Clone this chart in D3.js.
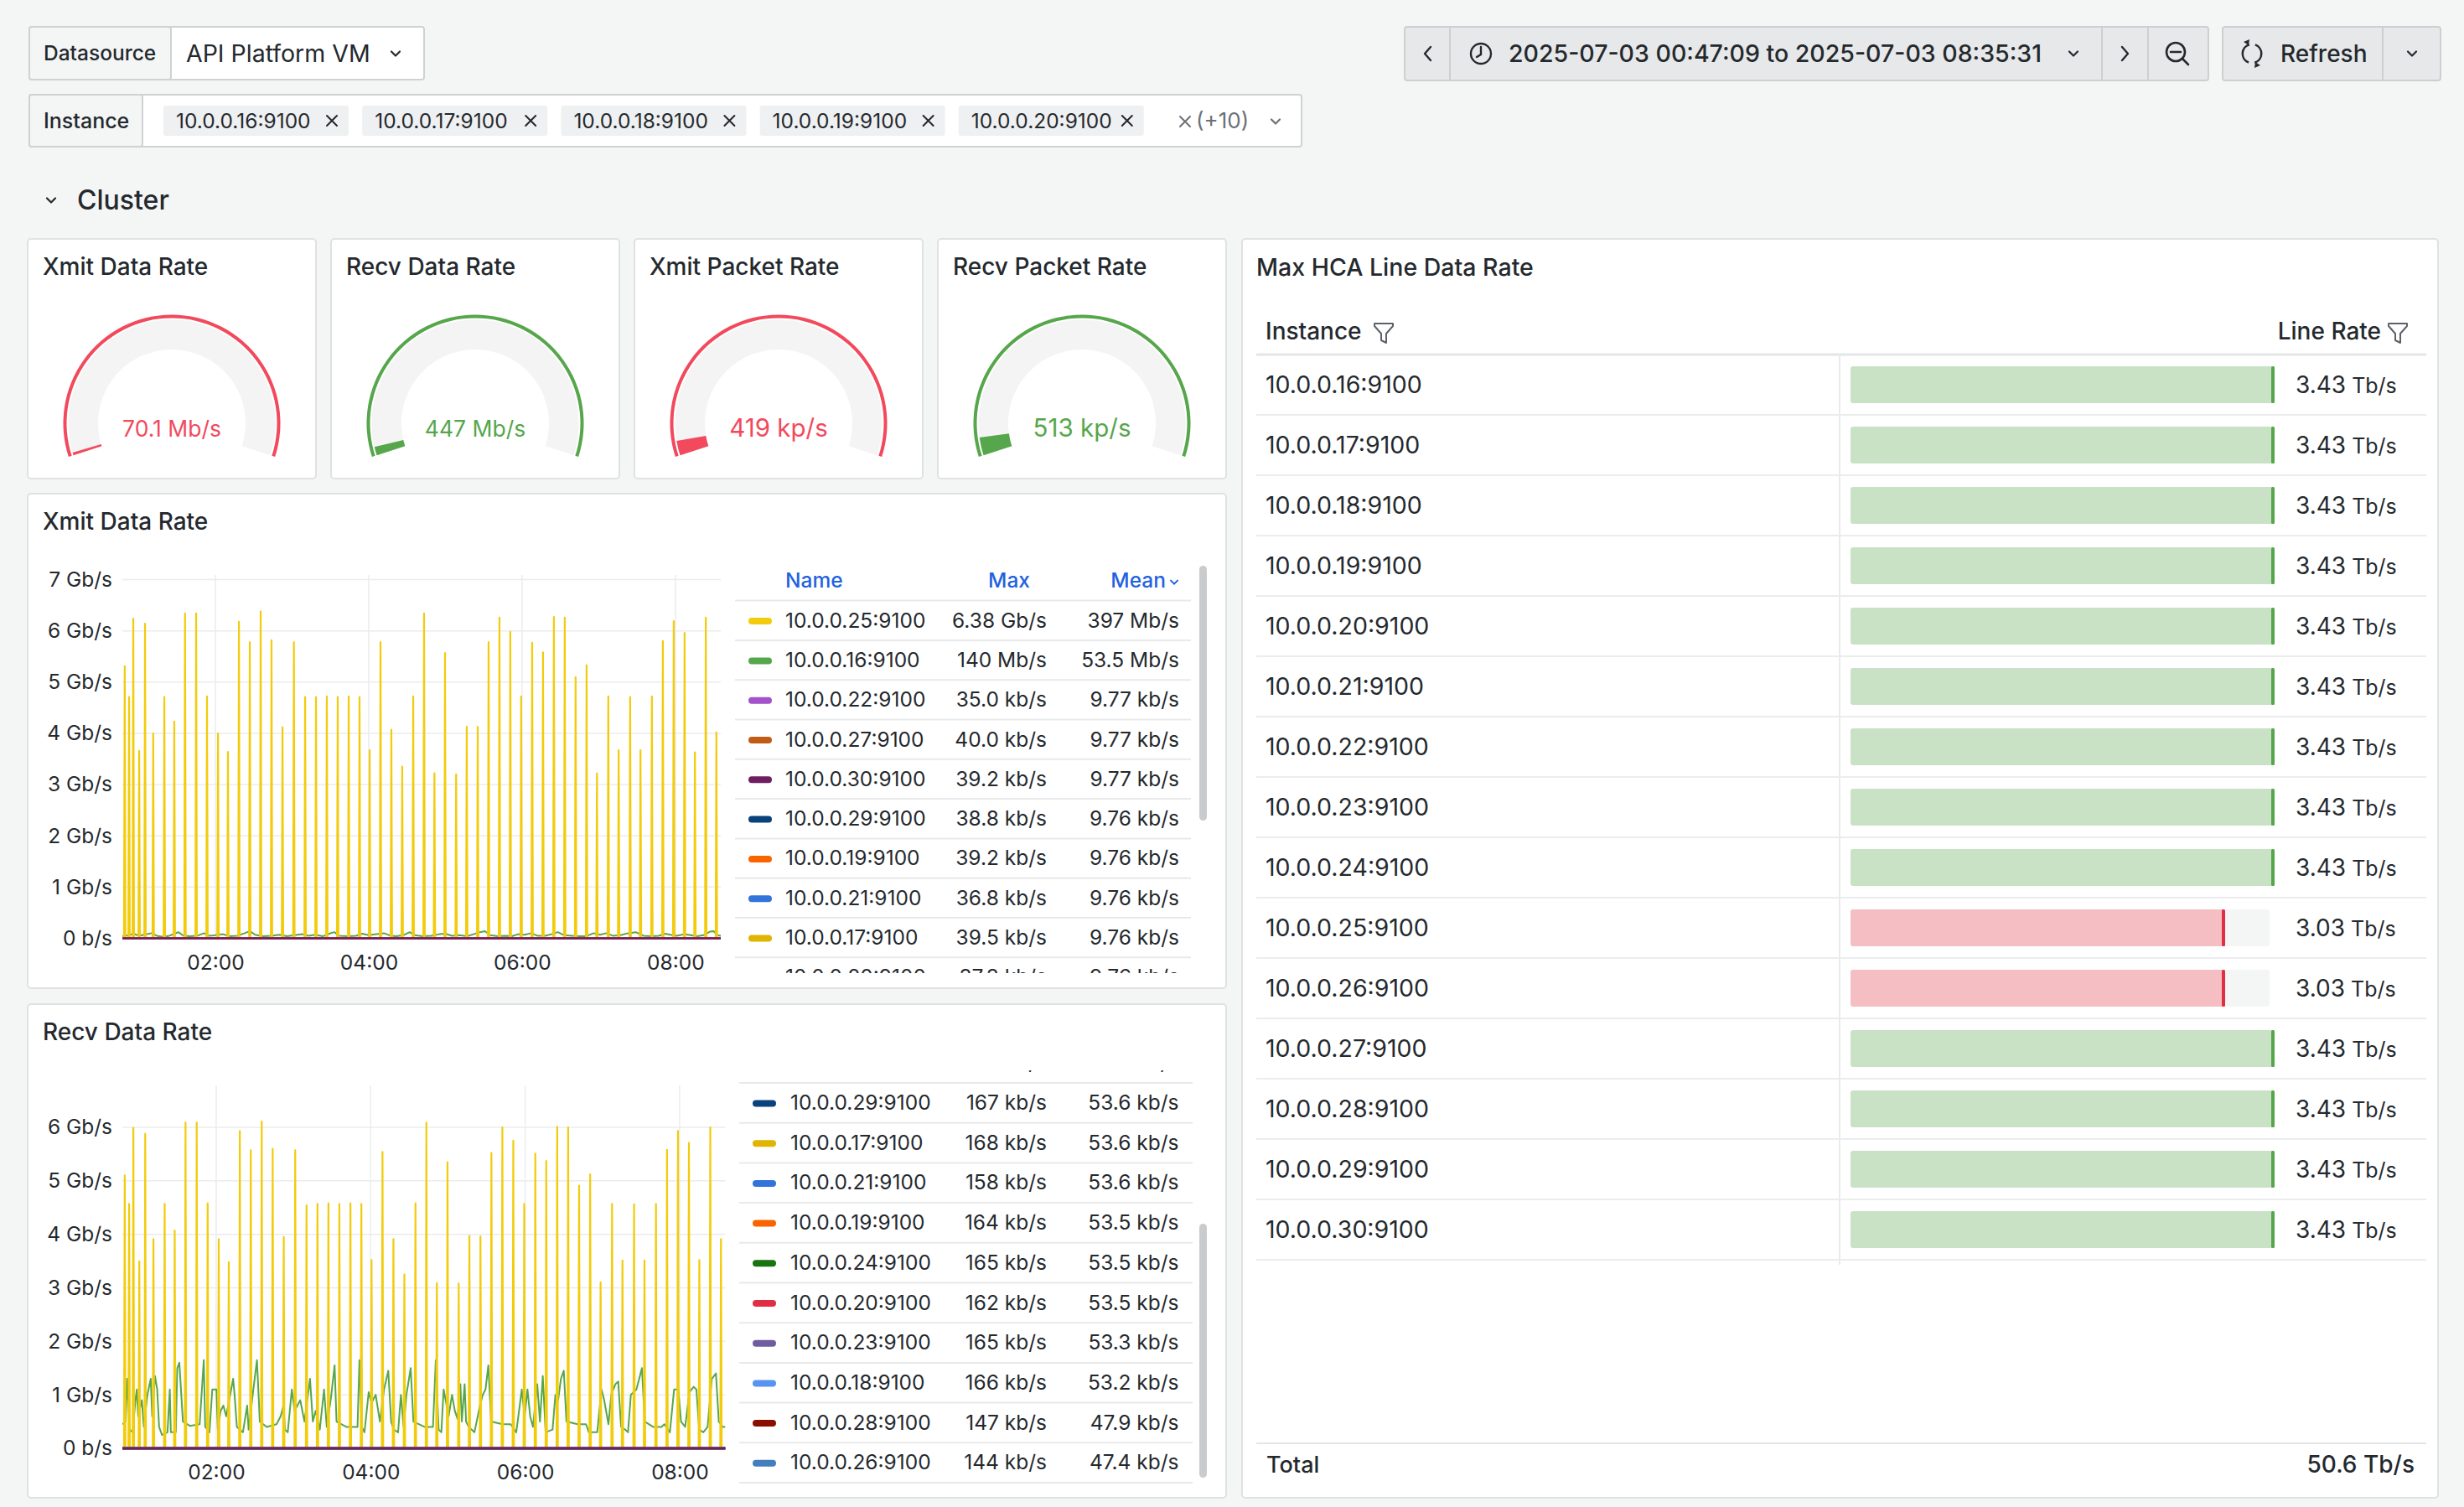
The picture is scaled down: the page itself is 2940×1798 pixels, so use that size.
<!DOCTYPE html>
<html>
<head>
<meta charset="utf-8">
<title>Cluster</title>
<script src="https://cdn.jsdelivr.net/npm/d3@7"></script>
<style>
  html, body { margin: 0; padding: 0; background: #f4f5f5; }
  svg { display: block; font-family: Inter, "Noto Sans", sans-serif; }
</style>
</head>
<body>
<svg id="dashboard" width="2940" height="1798"></svg>
<script>
// ---------- data ----------
const instances = ['10.0.0.16:9100', '10.0.0.17:9100', '10.0.0.18:9100', '10.0.0.19:9100', '10.0.0.20:9100',
    '10.0.0.21:9100', '10.0.0.22:9100', '10.0.0.23:9100', '10.0.0.24:9100', '10.0.0.25:9100',
    '10.0.0.26:9100', '10.0.0.27:9100', '10.0.0.28:9100', '10.0.0.29:9100', '10.0.0.30:9100'];
const lineRates = [3.43, 3.43, 3.43, 3.43, 3.43, 3.43, 3.43, 3.43, 3.43, 3.03, 3.03, 3.43, 3.43, 3.43, 3.43]; // Tb/s
const lineRateTotal = '50.6';
const lineRateThreshold = 3.2;

const instanceColors = {
    '10.0.0.16:9100': '#56A64B', '10.0.0.17:9100': '#E0B400', '10.0.0.18:9100': '#5794F2',
    '10.0.0.19:9100': '#FA6400', '10.0.0.20:9100': '#E02F44', '10.0.0.21:9100': '#3274D9',
    '10.0.0.22:9100': '#A352CC', '10.0.0.23:9100': '#705DA0', '10.0.0.24:9100': '#19730E',
    '10.0.0.25:9100': '#F2CC0C', '10.0.0.26:9100': '#447EBC', '10.0.0.27:9100': '#C15C17',
    '10.0.0.28:9100': '#890F02', '10.0.0.29:9100': '#0A437C', '10.0.0.30:9100': '#6D1F62'
};

const gaugeTitles = ['Xmit Data Rate', 'Recv Data Rate', 'Xmit Packet Rate', 'Recv Packet Rate'];
const gaugeValues = [70.1, 447, 419, 513];
const gaugeUnits = ['Mb/s', 'Mb/s', 'kp/s', 'kp/s'];
const gaugeMax = [10000, 20000, 11000, 11000];
const gaugeColors = ['#F2495C', '#56A64B', '#F2495C', '#56A64B'];

const rangeStart = new Date(2025, 6, 3, 0, 47, 9);
const rangeEnd = new Date(2025, 6, 3, 8, 35, 31);
const timeTicks = ['02:00', '04:00', '06:00', '08:00'];
const xmitYTicks = [0, 1, 2, 3, 4, 5, 6, 7];   // Gb/s
const recvYTicks = [0, 1, 2, 3, 4, 5, 6];      // Gb/s

// 10.0.0.25 bursts: minutes after midnight, and peak in Gb/s
const spikeMinutes = [49.0, 52.4, 55.7, 60.3, 64.9, 71.3, 80.0, 87.8, 96.2, 104.9, 113.4, 122.0, 129.8, 138.4,
    146.9, 155.4, 163.9, 172.5, 181.4, 190.2, 198.7, 207.2, 215.7, 224.3, 232.8, 240.7, 249.2, 257.7, 266.2,
    274.8, 283.3, 291.4, 299.7, 308.4, 316.7, 325.3, 333.8, 342.3, 350.8, 359.3, 367.9, 376.4, 384.9, 393.4,
    401.9, 410.5, 418.6, 427.5, 435.6, 444.6, 452.7, 461.6, 470.2, 478.7, 487.2, 495.3, 503.8, 512.1];
const xmitSpikes = [5.31, 4.71, 6.24, 3.66, 6.14, 4.00, 4.71, 4.23, 6.34, 6.34, 4.72, 4.00, 3.64, 6.18, 5.78,
    6.38, 5.82, 4.12, 5.78, 4.71, 4.71, 4.72, 4.71, 4.72, 4.71, 3.67, 5.78, 4.07, 3.35, 4.72, 6.34, 3.22, 5.57,
    3.20, 4.13, 4.13, 5.78, 6.26, 5.98, 4.72, 5.77, 5.58, 6.27, 6.26, 5.10, 5.33, 3.22, 4.72, 3.67, 4.71, 3.67,
    4.72, 5.80, 6.19, 5.96, 3.63, 6.26, 4.02];
const recvSpikes = [5.10, 4.57, 5.99, 3.49, 5.88, 3.91, 4.57, 4.07, 6.09, 6.09, 4.58, 3.91, 3.48, 5.93, 5.57,
    6.11, 5.60, 3.95, 5.57, 4.54, 4.57, 4.58, 4.57, 4.58, 4.57, 3.52, 5.54, 3.91, 3.25, 4.58, 6.09, 3.09, 5.35,
    3.08, 3.97, 3.96, 5.52, 6.00, 5.75, 4.57, 5.51, 5.37, 6.01, 6.00, 4.91, 5.12, 3.10, 4.57, 3.51, 4.56, 3.51,
    4.57, 5.58, 5.93, 5.71, 3.52, 6.00, 3.91];

// 10.0.0.16: [minutes after midnight, Gb/s]
const xmitGreen = [[47.2, 0.04], [52, 0.06], [56, 0.09], [60, 0.05], [64, 0.07], [70, 0.1], [74, 0.05], [79, 0.03],
    [84, 0.05], [88, 0.09], [91, 0.12], [95, 0.05], [100, 0.04], [106, 0.05], [111, 0.1], [115, 0.05], [120, 0.06],
    [126, 0.08], [131, 0.04], [137, 0.05], [143, 0.1], [147, 0.14], [151, 0.07], [157, 0.04], [164, 0.05],
    [170, 0.07], [176, 0.04], [182, 0.06], [188, 0.08], [193, 0.05], [198, 0.07], [204, 0.04], [209, 0.09],
    [213, 0.12], [217, 0.05], [224, 0.04], [230, 0.05], [235, 0.09], [240, 0.06], [246, 0.08], [252, 0.1],
    [257, 0.05], [262, 0.04], [268, 0.07], [272, 0.12], [276, 0.06], [282, 0.04], [289, 0.05], [295, 0.08],
    [300, 0.09], [305, 0.05], [311, 0.06], [317, 0.04], [322, 0.08], [327, 0.12], [331, 0.14], [335, 0.06],
    [341, 0.04], [347, 0.05], [352, 0.04], [357, 0.08], [362, 0.07], [367, 0.1], [372, 0.05], [378, 0.05],
    [383, 0.08], [388, 0.12], [393, 0.06], [399, 0.05], [405, 0.04], [410, 0.04], [416, 0.1], [421, 0.07],
    [426, 0.1], [431, 0.05], [437, 0.06], [443, 0.1], [449, 0.12], [455, 0.05], [461, 0.04], [467, 0.05],
    [472, 0.09], [476, 0.07], [481, 0.05], [487, 0.08], [492, 0.06], [497, 0.04], [502, 0.06], [507, 0.13],
    [510, 0.14], [513, 0.06], [515.6, 0.05]];
const recvGreen = [[47.2, 0.45], [49.7, 0.5], [50.8, 1.3], [52.9, 0.35], [55.1, 0.3], [57.3, 0.9], [58.4, 1.1],
    [59.4, 0.6], [62.3, 0.9], [63.8, 0.4], [66.6, 1.0], [69.2, 1.3], [70.3, 0.6], [72.5, 1.35], [74.2, 1.1],
    [75.7, 0.4], [77.9, 0.25], [82.2, 0.3], [84.0, 1.1], [84.8, 0.3], [88.7, 0.3], [89.8, 1.5], [91.4, 1.6],
    [94.2, 0.5], [99.6, 0.42], [107.2, 0.45], [110.4, 1.65], [111.5, 0.4], [114.8, 0.3], [117.0, 1.1],
    [120.2, 1.1], [121.3, 0.35], [123.5, 0.7], [125.6, 0.8], [127.8, 0.6], [133.2, 1.3], [134.3, 1.0],
    [136.1, 0.4], [140.8, 0.3], [144.1, 0.8], [145.2, 0.35], [148.4, 1.0], [151.7, 1.65], [153.9, 0.5],
    [159.3, 0.4], [166.9, 0.45], [170.1, 0.6], [172.3, 0.8], [173.4, 0.35], [175.6, 0.3], [178.8, 1.1],
    [181.0, 0.7], [185.3, 0.9], [188.6, 0.5], [192.9, 1.3], [195.1, 0.5], [197.3, 0.7], [200.5, 0.35],
    [203.8, 1.1], [205.9, 0.4], [209.2, 0.95], [212.0, 1.55], [213.5, 0.5], [221.1, 0.4], [229.8, 0.4],
    [231.3, 1.65], [233.1, 0.4], [235.2, 0.3], [238.5, 1.05], [240.7, 0.85], [243.9, 1.0], [247.2, 0.5],
    [250.4, 1.1], [253.7, 1.45], [255.9, 0.5], [258.0, 0.35], [261.3, 0.3], [263.5, 1.0], [265.6, 0.4],
    [267.8, 1.0], [271.1, 1.5], [273.2, 0.5], [281.9, 0.4], [288.4, 0.4], [290.6, 1.65], [292.8, 0.35],
    [294.9, 0.3], [296.7, 1.1], [300.6, 0.6], [303.2, 1.0], [305.4, 0.7], [307.5, 0.55], [309.7, 1.2],
    [310.8, 0.5], [313.0, 1.2], [314.1, 0.5], [316.2, 0.4], [320.6, 0.3], [324.9, 0.8], [327.1, 1.0],
    [329.2, 1.1], [331.4, 1.55], [333.6, 0.5], [342.3, 0.45], [348.8, 0.45], [353.1, 0.3], [357.4, 1.1],
    [359.6, 0.6], [361.8, 1.1], [363.9, 0.6], [366.1, 0.4], [369.4, 1.2], [371.5, 0.5], [373.7, 1.35],
    [375.9, 0.3], [381.3, 0.35], [383.5, 1.0], [385.6, 0.9], [387.8, 1.3], [390.0, 1.45], [392.1, 0.5],
    [400.8, 0.45], [407.3, 0.45], [409.5, 0.3], [416.0, 0.3], [419.3, 1.1], [421.4, 0.9], [424.7, 0.45],
    [426.9, 1.0], [430.1, 1.2], [432.3, 1.25], [434.5, 0.4], [437.7, 0.35], [439.9, 0.3], [442.1, 1.0],
    [446.4, 1.1], [448.6, 1.3], [450.7, 1.5], [452.9, 0.5], [459.4, 0.4], [465.9, 0.4], [468.1, 0.45],
    [472.4, 0.3], [475.7, 1.1], [478.9, 1.1], [481.1, 0.5], [484.3, 0.4], [487.6, 1.05], [490.9, 1.15],
    [493.0, 1.1], [495.2, 0.35], [498.4, 0.3], [501.7, 0.4], [505.0, 1.3], [508.2, 1.4], [510.4, 0.5],
    [513.6, 0.4], [515.6, 0.4]];

// legends (sorted by mean, as shown)
const xmitLegendNames = ['10.0.0.25:9100', '10.0.0.16:9100', '10.0.0.22:9100', '10.0.0.27:9100', '10.0.0.30:9100',
    '10.0.0.29:9100', '10.0.0.19:9100', '10.0.0.21:9100', '10.0.0.17:9100', '10.0.0.20:9100'];
const xmitLegendMax = ['6.38 Gb/s', '140 Mb/s', '35.0 kb/s', '40.0 kb/s', '39.2 kb/s', '38.8 kb/s', '39.2 kb/s',
    '36.8 kb/s', '39.5 kb/s', '37.3 kb/s'];
const xmitLegendMean = ['397 Mb/s', '53.5 Mb/s', '9.77 kb/s', '9.77 kb/s', '9.77 kb/s', '9.76 kb/s', '9.76 kb/s',
    '9.76 kb/s', '9.76 kb/s', '9.76 kb/s'];

const recvLegendNames = ['10.0.0.16:9100', '10.0.0.25:9100', '10.0.0.22:9100', '10.0.0.27:9100', '10.0.0.30:9100',
    '10.0.0.29:9100', '10.0.0.17:9100', '10.0.0.21:9100', '10.0.0.19:9100', '10.0.0.24:9100', '10.0.0.20:9100',
    '10.0.0.23:9100', '10.0.0.18:9100', '10.0.0.28:9100', '10.0.0.26:9100'];
const recvLegendMax = ['1.65 Gb/s', '6.11 Gb/s', '170 kb/s', '169 kb/s', '168 kb/s', '167 kb/s', '168 kb/s',
    '158 kb/s', '164 kb/s', '165 kb/s', '162 kb/s', '165 kb/s', '166 kb/s', '147 kb/s', '144 kb/s'];
const recvLegendMean = ['640 Mb/s', '380 Mb/s', '53.8 kb/s', '53.7 kb/s', '53.7 kb/s', '53.6 kb/s', '53.6 kb/s',
    '53.6 kb/s', '53.5 kb/s', '53.5 kb/s', '53.5 kb/s', '53.3 kb/s', '53.2 kb/s', '47.9 kb/s', '47.4 kb/s'];

// ---------- styling ----------
const textColor = '#24292e';
const mutedColor = '#6c7077';
const gridColor = '#ebecec';
const panelBorder = '#e0e1e3';
const linkColor = '#1f62e0';

const svg = d3.select('#dashboard');

function panel(x, y, w, h) {
    svg.append('rect')
        .attr('x', x).attr('y', y).attr('width', w).attr('height', h).attr('rx', 4)
        .attr('fill', '#fff').attr('stroke', panelBorder).attr('stroke-width', 2);
}

function label(x, y, s, size, opts = {}) {
    return svg.append('text')
        .attr('x', x).attr('y', y)
        .attr('font-size', size)
        .attr('font-weight', opts.weight || 400)
        .attr('fill', opts.color || textColor)
        .attr('text-anchor', opts.anchor || 'start')
        .text(s);
}

function chevronDown(cx, cy, size, color) {
    svg.append('path')
        .attr('d', `M${cx - size},${cy - size / 2} L${cx},${cy + size / 2} L${cx + size},${cy - size / 2}`)
        .attr('fill', 'none').attr('stroke', color || textColor).attr('stroke-width', 2.2)
        .attr('stroke-linecap', 'round').attr('stroke-linejoin', 'round');
}

function cross(cx, cy, size, color) {
    svg.append('path')
        .attr('d', `M${cx - size},${cy - size} L${cx + size},${cy + size} M${cx + size},${cy - size} L${cx - size},${cy + size}`)
        .attr('stroke', color || textColor).attr('stroke-width', 2).attr('stroke-linecap', 'round');
}

function funnel(x, y, color) {
    svg.append('path')
        .attr('d', `M${x},${y} h22 v3 l-8,9 v11 l-6,-3 v-8 l-8,-9 z`)
        .attr('fill', 'none').attr('stroke', color).attr('stroke-width', 2).attr('stroke-linejoin', 'round');
}

function parseRate(s) {
    const [v, unit] = s.split(' ');
    const k = { 'Gb/s': 1, 'Mb/s': 1e-3, 'kb/s': 1e-6 }[unit];
    return +v * k;
}

// ---------- variable bar ----------
svg.append('rect').attr('x', 35).attr('y', 32).attr('width', 471).attr('height', 63).attr('rx', 3)
    .attr('fill', '#fff').attr('stroke', '#cfd1d3').attr('stroke-width', 2);
svg.append('rect').attr('x', 35).attr('y', 32).attr('width', 169).attr('height', 63).attr('rx', 3)
    .attr('fill', '#f4f5f5').attr('stroke', '#cfd1d3').attr('stroke-width', 2);
label(52, 72, 'Datasource', 24.5, { weight: 500 });
label(222, 74, 'API Platform VM', 28.5);
chevronDown(472, 64, 5);

svg.append('rect').attr('x', 35).attr('y', 113).attr('width', 1518).attr('height', 62).attr('rx', 3)
    .attr('fill', '#fff').attr('stroke', '#cfd1d3').attr('stroke-width', 2);
svg.append('rect').attr('x', 35).attr('y', 113).attr('width', 135).attr('height', 62).attr('rx', 3)
    .attr('fill', '#f4f5f5').attr('stroke', '#cfd1d3').attr('stroke-width', 2);
label(52, 153, 'Instance', 25, { weight: 500 });
instances.slice(0, 5).forEach((name, i) => {
    const x = 195 + i * 237.2;
    svg.append('rect').attr('x', x).attr('y', 126).attr('width', 221).attr('height', 36).attr('rx', 3)
        .attr('fill', '#eff0f1');
    label(x + 15, 153, name, 24.5);
    cross(x + 201, 144, 6);
});
cross(1414, 145, 6, mutedColor);
label(1427, 153, `(+${instances.length - 5})`, 26, { color: mutedColor });
chevronDown(1522, 145, 5, mutedColor);

// ---------- time picker ----------
const pickerFill = '#e7e8e9', pickerStroke = '#cdcfd1';
svg.append('rect').attr('x', 1676).attr('y', 32).attr('width', 959).attr('height', 64).attr('rx', 3)
    .attr('fill', pickerFill).attr('stroke', pickerStroke).attr('stroke-width', 2);
[1730, 2508, 2563].forEach(x => {
    svg.append('line').attr('x1', x).attr('x2', x).attr('y1', 33).attr('y2', 95)
        .attr('stroke', pickerStroke).attr('stroke-width', 2);
});
svg.append('path').attr('d', 'M1707,56 L1700,64 L1707,72').attr('fill', 'none').attr('stroke', textColor)
    .attr('stroke-width', 2.4).attr('stroke-linecap', 'round').attr('stroke-linejoin', 'round');
svg.append('circle').attr('cx', 1767).attr('cy', 64).attr('r', 12).attr('fill', 'none')
    .attr('stroke', textColor).attr('stroke-width', 2.4);
svg.append('path').attr('d', 'M1767,56 V65 L1762,68').attr('fill', 'none').attr('stroke', textColor)
    .attr('stroke-width', 2.4).attr('stroke-linecap', 'round');
const fmt = d3.timeFormat('%Y-%m-%d %H:%M:%S');
label(1800, 74, `${fmt(rangeStart)} to ${fmt(rangeEnd)}`, 28.5, { weight: 500 });
chevronDown(2474, 64, 5);
svg.append('path').attr('d', 'M2532,56 L2539,64 L2532,72').attr('fill', 'none').attr('stroke', textColor)
    .attr('stroke-width', 2.4).attr('stroke-linecap', 'round').attr('stroke-linejoin', 'round');
svg.append('circle').attr('cx', 2596).attr('cy', 62).attr('r', 11).attr('fill', 'none')
    .attr('stroke', textColor).attr('stroke-width', 2.6);
svg.append('path').attr('d', 'M2590,62 H2602 M2604,70 L2611,77').attr('stroke', textColor)
    .attr('stroke-width', 2.6).attr('stroke-linecap', 'round');

svg.append('rect').attr('x', 2652).attr('y', 32).attr('width', 260).attr('height', 64).attr('rx', 3)
    .attr('fill', pickerFill).attr('stroke', pickerStroke).attr('stroke-width', 2);
svg.append('line').attr('x1', 2843).attr('x2', 2843).attr('y1', 33).attr('y2', 95)
    .attr('stroke', pickerStroke).attr('stroke-width', 2);
const refreshArc = d3.arc().innerRadius(10).outerRadius(12.5);
[[0.35, 2.85], [3.5, 6.0]].forEach(([a0, a1]) => {
    svg.append('path').attr('transform', 'translate(2687,64)')
        .attr('d', refreshArc({ startAngle: a0, endAngle: a1 })).attr('fill', textColor);
});
svg.append('path').attr('d', 'M2691,74 l6,4 l-7,3 z M2683,54 l-6,-4 l7,-3 z').attr('fill', textColor);
label(2721, 74, 'Refresh', 28, { weight: 500 });
chevronDown(2878, 64, 5);

// ---------- row title ----------
chevronDown(61, 239, 5);
label(92, 250, 'Cluster', 32, { weight: 500 });

// ---------- gauges ----------
const gaugeSpan = 0.6 * Math.PI;
gaugeTitles.forEach((title, i) => {
    const px = 33 + i * 362;
    panel(px, 285, 344, 286);
    label(px + 18, 328, title, 28, { weight: 500 });

    const angle = d3.scaleLinear().domain([0, gaugeMax[i]]).range([-gaugeSpan, gaugeSpan]).clamp(true);
    const g = svg.append('g').attr('transform', `translate(${px + 172},505)`);
    const ring = d3.arc().innerRadius(125.5).outerRadius(129.5);
    const band = d3.arc().innerRadius(88).outerRadius(123.5);
    g.append('path').attr('d', ring({ startAngle: -gaugeSpan, endAngle: gaugeSpan })).attr('fill', gaugeColors[i]);
    g.append('path').attr('d', band({ startAngle: -gaugeSpan, endAngle: gaugeSpan })).attr('fill', '#f4f4f4');
    g.append('path').attr('d', band({ startAngle: -gaugeSpan, endAngle: angle(gaugeValues[i]) }))
        .attr('fill', gaugeColors[i]);
    g.append('text').attr('y', 16).attr('text-anchor', 'middle')
        .attr('font-size', gaugeUnits[i] === 'kp/s' ? 29.5 : 26.5)
        .attr('fill', gaugeColors[i])
        .text(`${gaugeValues[i]} ${gaugeUnits[i]}`);
});

// ---------- time series ----------
const dayStart = new Date(2025, 6, 3, 0, 0, 0);
const at = m => new Date(+dayStart + m * 60000);
const startMin = (rangeStart - dayStart) / 60000;
const endMin = (rangeEnd - dayStart) / 60000;
const tickDates = timeTicks.map(s => d3.timeParse('%Y-%m-%d %H:%M')('2025-07-03 ' + s));

function timeseries(o) {
    panel(33, o.top, 1430, o.height);
    label(51, o.titleY, o.title, 28, { weight: 500 });

    const x = d3.scaleTime().domain([rangeStart, rangeEnd]).range([146, o.right]);
    const y = d3.scaleLinear().domain([0, d3.max(o.yTicks)]).range([o.zeroY, o.topTickY]);
    const g = svg.append('g');

    g.append('g').selectAll('line').data(o.yTicks).join('line')
        .attr('x1', 146).attr('x2', o.right).attr('y1', d => y(d)).attr('y2', d => y(d))
        .attr('stroke', gridColor).attr('stroke-width', 1.5);
    g.append('g').selectAll('line').data(tickDates).join('line')
        .attr('x1', d => x(d)).attr('x2', d => x(d)).attr('y1', o.gridTop).attr('y2', y(0))
        .attr('stroke', gridColor).attr('stroke-width', 1.5);

    const yAxis = g.append('g').attr('transform', 'translate(146,0)')
        .call(d3.axisLeft(y).tickValues(o.yTicks).tickSize(0).tickPadding(12)
            .tickFormat(d => d === 0 ? '0 b/s' : `${d} Gb/s`));
    const xAxis = g.append('g').attr('transform', `translate(0,${y(0)})`)
        .call(d3.axisBottom(x).tickValues(tickDates).tickSize(0).tickPadding(20)
            .tickFormat(d3.timeFormat('%H:%M')));
    [yAxis, xAxis].forEach(a => {
        a.attr('font-family', null).attr('font-size', null);
        a.select('.domain').remove();
        a.selectAll('text').attr('font-size', 24.5).attr('fill', textColor);
    });

    const clipId = 'clip-' + o.id;
    svg.append('clipPath').attr('id', clipId).append('rect')
        .attr('x', 146).attr('y', o.gridTop - 10).attr('width', o.right - 146).attr('height', y(0) - o.gridTop + 12);
    const plot = g.append('g').attr('clip-path', `url(#${clipId})`);
    const line = d3.line().x(d => x(at(d[0]))).y(d => y(d[1]));

    plot.append('path').datum(o.green).attr('d', line)
        .attr('fill', 'none').attr('stroke', instanceColors['10.0.0.16:9100'])
        .attr('stroke-width', 2).attr('stroke-linejoin', 'round');

    const bursts = [[startMin, 0]]
        .concat(spikeMinutes.flatMap((m, i) => [[m - 0.55, 0], [m, o.spikes[i]], [m + 0.55, 0]]))
        .concat([[endMin, 0]]);
    plot.append('path').datum(bursts).attr('d', line)
        .attr('fill', 'none').attr('stroke', instanceColors['10.0.0.25:9100'])
        .attr('stroke-width', 2.2).attr('stroke-linejoin', 'round');

    // the quiet instances sit on the zero line, 10.0.0.30 ends up on top
    const quiet = o.legendNames.map((n, i) => ({ name: n, value: parseRate(o.legendMean[i]) }))
        .filter(d => d.name !== '10.0.0.16:9100' && d.name !== '10.0.0.25:9100')
        .sort((a, b) => (a.name === '10.0.0.30:9100') - (b.name === '10.0.0.30:9100'));
    quiet.forEach(d => {
        plot.append('path').datum([[startMin, d.value], [endMin, d.value]]).attr('d', line)
            .attr('fill', 'none').attr('stroke', instanceColors[d.name]).attr('stroke-width', 2.5);
    });
}

function legend(o) {
    const clipId = 'legend-' + o.id;
    svg.append('clipPath').attr('id', clipId).append('rect')
        .attr('x', o.left - 5).attr('y', o.clipTop).attr('width', o.right - o.left + 10).attr('height', o.clipBottom - o.clipTop);
    const g = svg.append('g').attr('clip-path', `url(#${clipId})`);

    if (o.header) {
        const hy = o.rowTop0 - 16;
        g.append('text').attr('x', o.nameX).attr('y', hy).attr('font-size', 24.5).attr('font-weight', 500)
            .attr('fill', linkColor).text('Name');
        g.append('text').attr('x', o.maxX - 20).attr('y', hy).attr('font-size', 24.5).attr('font-weight', 500)
            .attr('fill', linkColor).attr('text-anchor', 'end').text('Max');
        g.append('text').attr('x', o.meanX - 16).attr('y', hy).attr('font-size', 24.5).attr('font-weight', 500)
            .attr('fill', linkColor).attr('text-anchor', 'end').text('Mean');
        g.append('path').attr('d', `M${o.meanX - 10},${hy - 8} l4,4 l4,-4`).attr('fill', 'none')
            .attr('stroke', linkColor).attr('stroke-width', 2).attr('stroke-linecap', 'round');
        g.append('line').attr('x1', o.left).attr('x2', o.right).attr('y1', o.rowTop0).attr('y2', o.rowTop0)
            .attr('stroke', '#e8e9ea').attr('stroke-width', 2);
    }

    // only rows that reach into the scrolled viewport are drawn
    const rowData = o.names.map((name, i) => ({ name, i, top: o.rowTop0 + i * o.pitch }))
        .filter(d => d.top + o.pitch > o.clipTop && d.top < o.clipBottom);
    const rows = g.selectAll('g.row').data(rowData).join('g')
        .attr('class', 'row')
        .attr('transform', d => `translate(0,${d.top})`);
    rows.append('line').attr('x1', o.left).attr('x2', o.right).attr('y1', o.pitch).attr('y2', o.pitch)
        .attr('stroke', '#e8e9ea').attr('stroke-width', 2);
    rows.append('rect').attr('x', o.swatchX).attr('y', 20.5).attr('width', 28).attr('height', 8).attr('rx', 4)
        .attr('fill', d => instanceColors[d.name]);
    rows.append('text').attr('x', o.nameX).attr('y', 32).attr('font-size', 24.5).attr('fill', textColor)
        .text(d => d.name);
    rows.append('text').attr('x', o.maxX).attr('y', 32).attr('font-size', 24.5).attr('fill', textColor)
        .attr('text-anchor', 'end').text(d => o.max[d.i]);
    rows.append('text').attr('x', o.meanX).attr('y', 32).attr('font-size', 24.5).attr('fill', textColor)
        .attr('text-anchor', 'end').text(d => o.mean[d.i]);

    svg.append('rect').attr('x', o.scrollX).attr('y', o.scrollTop).attr('width', 9)
        .attr('height', o.scrollBottom - o.scrollTop).attr('rx', 4.5).attr('fill', '#c9cbcd');
}

timeseries({
    id: 'xmit', title: 'Xmit Data Rate', top: 589, height: 590, titleY: 632,
    right: 860, zeroY: 1119.5, topTickY: 691.6, gridTop: 686, yTicks: xmitYTicks,
    spikes: xmitSpikes, green: xmitGreen, legendNames: xmitLegendNames, legendMean: xmitLegendMean
});
legend({
    id: 'xmit', names: xmitLegendNames, max: xmitLegendMax, mean: xmitLegendMean, header: true,
    rowTop0: 716.6, pitch: 47.3, left: 877, right: 1421, swatchX: 893, nameX: 937, maxX: 1249, meanX: 1407,
    clipTop: 660, clipBottom: 1161, scrollX: 1431, scrollTop: 675, scrollBottom: 979
});

timeseries({
    id: 'recv', title: 'Recv Data Rate', top: 1198, height: 589, titleY: 1241,
    right: 865.5, zeroY: 1728, topTickY: 1345, gridTop: 1295, yTicks: recvYTicks,
    spikes: recvSpikes, green: recvGreen, legendNames: recvLegendNames, legendMean: recvLegendMean
});
legend({
    id: 'recv', names: recvLegendNames, max: recvLegendMax, mean: recvLegendMean, header: false,
    rowTop0: 1292 - 5 * 47.7, pitch: 47.7, left: 882, right: 1423, swatchX: 898, nameX: 943, maxX: 1249, meanX: 1406.5,
    clipTop: 1277, clipBottom: 1775, scrollX: 1431, scrollTop: 1460, scrollBottom: 1763
});

// ---------- line rate table ----------
panel(1482, 285, 1427, 1502);
label(1499, 329, 'Max HCA Line Data Rate', 28.5, { weight: 500 });
label(1510, 405, 'Instance', 28, { weight: 500 });
funnel(1640, 386, '#5d6167');
label(2841, 405, 'Line Rate', 28, { weight: 500, anchor: 'end' });
funnel(2850, 386, '#5d6167');

const tableTop = 423, rowH = 72;
const barX = d3.scaleLinear().domain([0, d3.max(lineRates)]).range([2208, 2714]);
svg.append('line').attr('x1', 1499).attr('x2', 2895).attr('y1', tableTop).attr('y2', tableTop)
    .attr('stroke', '#e4e5e6').attr('stroke-width', 3);
svg.append('line').attr('x1', 2195).attr('x2', 2195).attr('y1', tableTop).attr('y2', tableTop + instances.length * rowH + 6)
    .attr('stroke', '#e9eaeb').attr('stroke-width', 2);

const tableRows = svg.append('g').selectAll('g').data(instances).join('g')
    .attr('transform', (d, i) => `translate(0,${tableTop + i * rowH})`);
tableRows.append('line').attr('x1', 1499).attr('x2', 2895).attr('y1', rowH).attr('y2', rowH)
    .attr('stroke', '#ebeced').attr('stroke-width', 2);
tableRows.append('text').attr('x', 1510).attr('y', 46).attr('font-size', 28.5).attr('fill', textColor).text(d => d);
tableRows.each(function (d, i) {
    const row = d3.select(this);
    const v = lineRates[i];
    const ok = v >= lineRateThreshold;
    if (!ok) {
        row.append('rect').attr('x', barX(0)).attr('y', 14).attr('width', barX.range()[1] - 6 - barX(0))
            .attr('height', 44).attr('rx', 3).attr('fill', '#f4f5f5');
    }
    row.append('rect').attr('x', barX(0)).attr('y', 14).attr('width', barX(v) - barX(0)).attr('height', 44)
        .attr('rx', 3).attr('fill', ok ? '#c9e2c6' : '#f5bec3');
    row.append('rect').attr('x', barX(v) - 4).attr('y', 14).attr('width', 4).attr('height', 44)
        .attr('rx', 1.5).attr('fill', ok ? '#56A64B' : '#E02F44');
    const t = row.append('text').attr('x', 2739).attr('y', 46).attr('fill', textColor);
    t.append('tspan').attr('font-size', 28).text(v.toFixed(2));
    t.append('tspan').attr('font-size', 25).text(' Tb/s');
});

svg.append('line').attr('x1', 1499).attr('x2', 2895).attr('y1', 1722).attr('y2', 1722)
    .attr('stroke', '#e4e5e6').attr('stroke-width', 2);
label(1511, 1757, 'Total', 27, { weight: 500 });
label(2881, 1757, `${lineRateTotal} Tb/s`, 28, { weight: 500, anchor: 'end' });
</script>
</body>
</html>
